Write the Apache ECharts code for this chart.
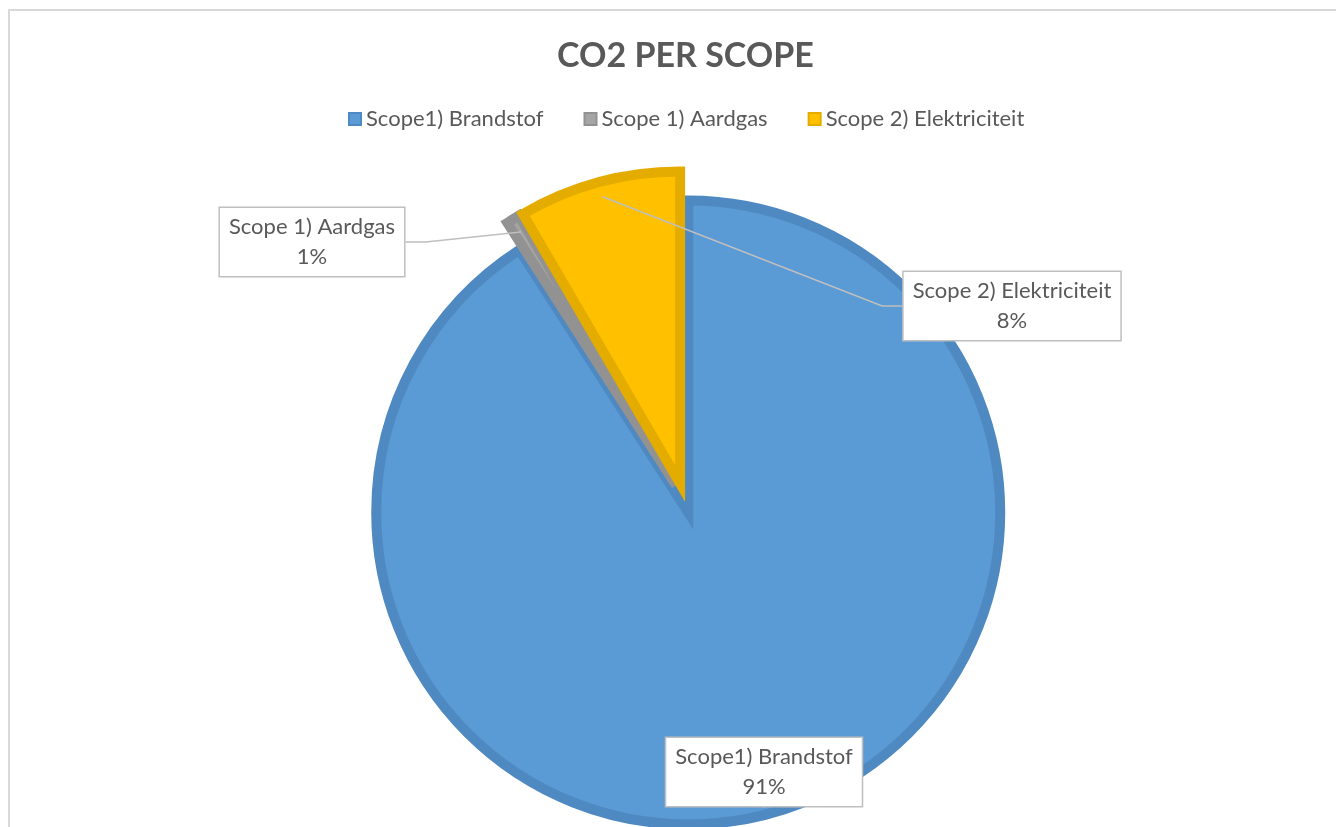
<!DOCTYPE html>
<html>
<head>
<meta charset="utf-8">
<title>CO2 per scope</title>
<script src="https://cdn.jsdelivr.net/npm/echarts@6/dist/echarts.min.js"></script>
<style>
	html, body { margin: 0; padding: 0; background: #fff; }
	#frame {
		position: absolute; left: 8px; top: 9px; width: 1340px; height: 830px;
		border-top: 2px solid #d9d9d9; border-left: 2px solid #d9d9d9;
	}
	#chart { position: absolute; left: 0; top: 0; width: 1336px; height: 827px; }
</style>
</head>
<body>
<div id="frame"></div>
<div id="chart"></div>
<script>
// data (shares in %)
var categories = ['Scope1) Brandstof', 'Scope 1) Aardgas', 'Scope 2) Elektriciteit'];
var shares = [90.9, 0.7, 8.4];

var fillColors = ['#5b9bd5', '#a5a5a5', '#ffc000'];
var edgeColors = ['#4f89c1', '#929292', '#e5ac00'];

// callout box centres
var calloutPos = [[764, 772], [312, 242], [1012, 306]];

var pieCenter = [684, 498];
var pieRadius = 312;

var drawPieChart = function () {
	var myChart = echarts.init(document.getElementById('chart'));

	// exploded slices (selected state gives the offset)
	var sliceData = categories.map(function (name, i) {
		return {
			name: name,
			value: shares[i],
			selected: true,
			itemStyle: { color: fillColors[i], borderColor: edgeColors[i] },
			select: { itemStyle: { color: fillColors[i], borderColor: edgeColors[i] } }
		};
	});

	// same values again, only to carry the callouts
	var labelData = categories.map(function (name, i) {
		return { name: name, value: shares[i] };
	});

	var option = {
		animation: false,
		color: fillColors,
		title: {
			text: 'CO2 PER SCOPE',
			left: 552,
			top: 34,
			textStyle: { fontFamily: 'Lato', fontSize: 34, fontWeight: 'bold', color: '#595959' }
		},
		legend: {
			top: 103,
			left: 343,
			icon: 'rect',
			itemWidth: 12,
			itemHeight: 12,
			itemGap: 40,
			selectedMode: false,
			data: categories,
			textStyle: { fontFamily: 'Lato', fontSize: 22, color: '#595959' }
		},
		series: [
			{
				name: 'CO2',
				type: 'pie',
				center: pieCenter,
				radius: pieRadius,
				startAngle: 90,
				clockwise: true,
				selectedMode: 'multiple',
				selectedOffset: 15,
				emphasis: { disabled: true },
				itemStyle: { borderWidth: 10, borderJoin: 'miter', borderMiterLimit: 10 },
				label: { show: false },
				labelLine: { show: false },
				data: sliceData
			},
			{
				name: 'CO2 labels',
				type: 'pie',
				center: pieCenter,
				radius: pieRadius,
				startAngle: 90,
				clockwise: true,
				silent: true,
				z: 5,
				emphasis: { disabled: true },
				itemStyle: { color: 'rgba(0,0,0,0)', borderWidth: 0 },
				label: {
					show: true,
					formatter: function (p) {
						return p.name + '\n' + Math.round(p.percent) + '%';
					},
					fontFamily: 'Lato',
					fontSize: 22,
					lineHeight: 30,
					color: '#595959',
					align: 'center',
					backgroundColor: '#ffffff',
					borderColor: '#bfbfbf',
					borderWidth: 1.5,
					padding: [5, 9, 3, 9]
				},
				labelLine: {
					show: true,
					length: 20,
					length2: 20,
					lineStyle: { color: '#bfbfbf', width: 1.5 }
				},
				labelLayout: function (params) {
					var p = calloutPos[params.dataIndex];
					return { x: p[0], y: p[1], align: 'center', verticalAlign: 'middle' };
				},
				data: labelData
			}
		]
	};
	myChart.setOption(option);
};

drawPieChart();
</script>
</body>
</html>
